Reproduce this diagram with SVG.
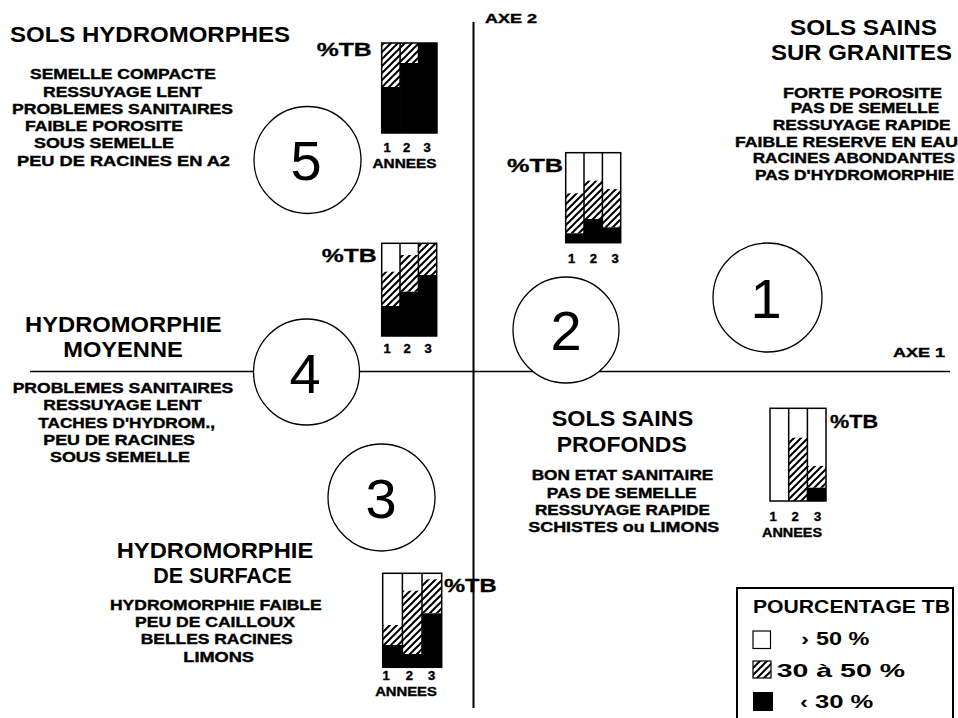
<svg xmlns="http://www.w3.org/2000/svg" width="958" height="718" viewBox="0 0 958 718">
  <style>
    text { font-family: "Liberation Sans", Arial, sans-serif; fill: #000; }
    .title { font-size: 22.5px; font-weight: bold; }
    .small { font-size: 15px; font-weight: bold; stroke: #000; stroke-width: 0.4px; }
    .tb { font-size: 19px; font-weight: bold; stroke: #000; stroke-width: 0.3px; }
    .dig { font-size: 13px; font-weight: bold; stroke: #000; stroke-width: 0.4px; text-anchor: middle; }
    .num { font-size: 56px; text-anchor: middle; }
    .leg { font-size: 19px; font-weight: bold; }
    .axis { font-size: 13px; font-weight: bold; stroke: #000; stroke-width: 0.4px; }
    .ring { fill: #fff; stroke: #000; stroke-width: 1.3; }
    .frame { fill: none; stroke: #000; stroke-width: 1.5; }
    .w { fill: #fff; }
    .h { fill: url(#hatch); }
    .b { fill: #000; }
    .line { stroke: #000; fill: none; }
  </style>
  <defs>
    <pattern id="hatch" patternUnits="userSpaceOnUse" width="7" height="7">
      <rect width="7" height="7" fill="#fff"/>
      <path d="M-1,8 L8,-1 M-1,1 L1,-1 M6,8 L8,6" stroke="#000" stroke-width="2"/>
    </pattern>
  </defs>
  <rect width="958" height="718" fill="#fff"/>

  <!-- axes -->
  <g id="connectors">
    <line class="line" x1="473.5" y1="22" x2="473.5" y2="708" stroke-width="2"/>
    <line class="line" x1="30" y1="371.5" x2="950" y2="371.5" stroke-width="1.5"/>
  </g>
  <text class="axis" x="485" y="22.7" textLength="52" lengthAdjust="spacingAndGlyphs">AXE 2</text>
  <text class="axis" x="893" y="357" textLength="52" lengthAdjust="spacingAndGlyphs">AXE 1</text>

  <!-- group 5 : hydromorphic soils -->
  <g id="node5">
    <circle class="ring" cx="307.5" cy="160" r="53.5"/>
    <text class="num" x="306" y="180">5</text>
    <text class="title" x="10" y="41.7" textLength="280" lengthAdjust="spacingAndGlyphs">SOLS HYDROMORPHES</text>
    <text class="small" x="30" y="79" textLength="186" lengthAdjust="spacingAndGlyphs">SEMELLE COMPACTE</text>
    <text class="small" x="43" y="96.7" textLength="159" lengthAdjust="spacingAndGlyphs">RESSUYAGE LENT</text>
    <text class="small" x="12" y="114" textLength="221" lengthAdjust="spacingAndGlyphs">PROBLEMES SANITAIRES</text>
    <text class="small" x="25" y="131" textLength="158" lengthAdjust="spacingAndGlyphs">FAIBLE POROSITE</text>
    <text class="small" x="34" y="148" textLength="140" lengthAdjust="spacingAndGlyphs">SOUS SEMELLE</text>
    <text class="small" x="17" y="165.5" textLength="213" lengthAdjust="spacingAndGlyphs">PEU DE RACINES EN A2</text>
    <g id="chart5">
      <rect class="h" x="381.7" y="43" width="18.4" height="44"/>
      <rect class="b" x="381.7" y="87" width="18.4" height="46"/>
      <rect class="h" x="400.1" y="43" width="18.4" height="20"/>
      <rect class="b" x="400.1" y="63" width="18.4" height="70"/>
      <rect class="b" x="418.5" y="43" width="18.5" height="90"/>
      <rect class="frame" x="381.7" y="43" width="55.3" height="90"/>
      <path class="line" stroke-width="1.5" d="M400.1,43V133M418.5,43V133"/>
      <text class="tb" x="316.7" y="56" textLength="55" lengthAdjust="spacingAndGlyphs">%TB</text>
      <text class="dig" x="387" y="152">1</text>
      <text class="dig" x="406.5" y="152">2</text>
      <text class="dig" x="427" y="152">3</text>
      <text class="dig" x="404.5" y="168" textLength="64" lengthAdjust="spacingAndGlyphs">ANNEES</text>
    </g>
  </g>

  <!-- group 1 : healthy soils on granite -->
  <g id="node1">
    <circle class="ring" cx="767.5" cy="297.5" r="54.5"/>
    <text class="num" x="766" y="318">1</text>
    <text class="title" x="790" y="35" textLength="147" lengthAdjust="spacingAndGlyphs">SOLS SAINS</text>
    <text class="title" x="771" y="60" textLength="181" lengthAdjust="spacingAndGlyphs">SUR GRANITES</text>
    <text class="small" x="783" y="97.7" textLength="159" lengthAdjust="spacingAndGlyphs">FORTE POROSITE</text>
    <text class="small" x="790.7" y="113.3" textLength="148.6" lengthAdjust="spacingAndGlyphs">PAS DE SEMELLE</text>
    <text class="small" x="772.7" y="130" textLength="178" lengthAdjust="spacingAndGlyphs">RESSUYAGE RAPIDE</text>
    <text class="small" x="735" y="146.7" textLength="223" lengthAdjust="spacingAndGlyphs">FAIBLE RESERVE EN EAU</text>
    <text class="small" x="752.7" y="163.3" textLength="202.3" lengthAdjust="spacingAndGlyphs">RACINES ABONDANTES</text>
    <text class="small" x="755" y="180" textLength="199" lengthAdjust="spacingAndGlyphs">PAS D'HYDROMORPHIE</text>
    <g id="chart1">
      <rect class="w" x="770" y="408.3" width="18.7" height="92.7"/>
      <rect class="w" x="788.7" y="408.3" width="18.7" height="29.4"/>
      <rect class="h" x="788.7" y="437.7" width="18.7" height="63.3"/>
      <rect class="w" x="807.4" y="408.3" width="18.6" height="57.7"/>
      <rect class="h" x="807.4" y="466" width="18.6" height="21.7"/>
      <rect class="b" x="807.4" y="487.7" width="18.6" height="13.3"/>
      <rect class="frame" x="770" y="408.3" width="56" height="92.7"/>
      <path class="line" stroke-width="1.5" d="M788.7,408.3V501M807.4,408.3V501"/>
      <text class="tb" x="830" y="428" textLength="48" lengthAdjust="spacingAndGlyphs">%TB</text>
      <text class="dig" x="773" y="521">1</text>
      <text class="dig" x="795" y="521">2</text>
      <text class="dig" x="817.7" y="521">3</text>
      <text class="dig" x="792" y="537" textLength="60" lengthAdjust="spacingAndGlyphs">ANNEES</text>
    </g>
  </g>

  <!-- group 2 : deep healthy soils -->
  <g id="node2">
    <circle class="ring" cx="566" cy="330" r="53"/>
    <text class="num" x="566" y="350">2</text>
    <text class="title" x="551.7" y="425.7" textLength="141.6" lengthAdjust="spacingAndGlyphs">SOLS SAINS</text>
    <text class="title" x="556.7" y="451.7" textLength="130" lengthAdjust="spacingAndGlyphs">PROFONDS</text>
    <text class="small" x="531.7" y="480" textLength="181.6" lengthAdjust="spacingAndGlyphs">BON ETAT SANITAIRE</text>
    <text class="small" x="546.7" y="497.7" textLength="150" lengthAdjust="spacingAndGlyphs">PAS DE SEMELLE</text>
    <text class="small" x="535" y="515" textLength="175" lengthAdjust="spacingAndGlyphs">RESSUYAGE RAPIDE</text>
    <text class="small" x="528.3" y="532.3" textLength="191" lengthAdjust="spacingAndGlyphs">SCHISTES ou LIMONS</text>
    <g id="chart2">
      <rect class="w" x="565.7" y="152.7" width="18.3" height="40.6"/>
      <rect class="h" x="565.7" y="193.3" width="18.3" height="40"/>
      <rect class="b" x="565.7" y="233.3" width="18.3" height="9.4"/>
      <rect class="w" x="584" y="152.7" width="18.4" height="28"/>
      <rect class="h" x="584" y="180.7" width="18.4" height="38.3"/>
      <rect class="b" x="584" y="219" width="18.4" height="23.7"/>
      <rect class="w" x="602.4" y="152.7" width="18.3" height="36.3"/>
      <rect class="h" x="602.4" y="189" width="18.3" height="38.3"/>
      <rect class="b" x="602.4" y="227.3" width="18.3" height="15.4"/>
      <rect class="frame" x="565.7" y="152.7" width="55" height="90"/>
      <path class="line" stroke-width="1.5" d="M584,152.7V242.7M602.4,152.7V242.7"/>
      <text class="tb" x="507" y="171.7" textLength="56" lengthAdjust="spacingAndGlyphs">%TB</text>
      <text class="dig" x="571.7" y="263">1</text>
      <text class="dig" x="593.3" y="263">2</text>
      <text class="dig" x="615" y="263">3</text>
    </g>
  </g>

  <!-- group 4 : medium hydromorphy -->
  <g id="node4">
    <circle class="ring" cx="306.5" cy="372" r="53"/>
    <text class="num" x="305" y="393">4</text>
    <text class="title" x="25" y="331.7" textLength="196.7" lengthAdjust="spacingAndGlyphs">HYDROMORPHIE</text>
    <text class="title" x="63.3" y="356.7" textLength="119.4" lengthAdjust="spacingAndGlyphs">MOYENNE</text>
    <text class="small" x="12.7" y="392.7" textLength="220.6" lengthAdjust="spacingAndGlyphs">PROBLEMES SANITAIRES</text>
    <text class="small" x="43.3" y="410" textLength="158.4" lengthAdjust="spacingAndGlyphs">RESSUYAGE LENT</text>
    <text class="small" x="38.3" y="427.7" textLength="176.7" lengthAdjust="spacingAndGlyphs">TACHES D'HYDROM.,</text>
    <text class="small" x="43.3" y="445" textLength="151.7" lengthAdjust="spacingAndGlyphs">PEU DE RACINES</text>
    <text class="small" x="50" y="462.3" textLength="140" lengthAdjust="spacingAndGlyphs">SOUS SEMELLE</text>
    <g id="chart4">
      <rect class="w" x="381.7" y="243.3" width="18.3" height="28.4"/>
      <rect class="h" x="381.7" y="271.7" width="18.3" height="34.3"/>
      <rect class="b" x="381.7" y="306" width="18.3" height="30"/>
      <rect class="w" x="400" y="243.3" width="18.4" height="11.7"/>
      <rect class="h" x="400" y="255" width="18.4" height="36.7"/>
      <rect class="b" x="400" y="291.7" width="18.4" height="44.3"/>
      <rect class="h" x="418.4" y="243.3" width="18.3" height="31.7"/>
      <rect class="b" x="418.4" y="275" width="18.3" height="61"/>
      <rect class="frame" x="381.7" y="243.3" width="55" height="92.7"/>
      <path class="line" stroke-width="1.5" d="M400,243.3V336M418.4,243.3V336"/>
      <text class="tb" x="321.7" y="261.7" textLength="55" lengthAdjust="spacingAndGlyphs">%TB</text>
      <text class="dig" x="387" y="353">1</text>
      <text class="dig" x="407" y="353">2</text>
      <text class="dig" x="428" y="353">3</text>
    </g>
  </g>

  <!-- group 3 : surface hydromorphy -->
  <g id="node3">
    <circle class="ring" cx="381.5" cy="497.5" r="53.5"/>
    <text class="num" x="381" y="518">3</text>
    <text class="title" x="116.7" y="558.3" textLength="196.6" lengthAdjust="spacingAndGlyphs">HYDROMORPHIE</text>
    <text class="title" x="153.3" y="583.3" textLength="138.4" lengthAdjust="spacingAndGlyphs">DE SURFACE</text>
    <text class="small" x="110" y="610" textLength="211.7" lengthAdjust="spacingAndGlyphs">HYDROMORPHIE FAIBLE</text>
    <text class="small" x="135" y="626.7" textLength="160" lengthAdjust="spacingAndGlyphs">PEU DE CAILLOUX</text>
    <text class="small" x="140.7" y="644" textLength="152" lengthAdjust="spacingAndGlyphs">BELLES RACINES</text>
    <text class="small" x="183.3" y="661.7" textLength="70.7" lengthAdjust="spacingAndGlyphs">LIMONS</text>
    <g id="chart3">
      <rect class="w" x="382.7" y="573.3" width="19.7" height="51.7"/>
      <rect class="h" x="382.7" y="625" width="19.7" height="20"/>
      <rect class="b" x="382.7" y="645" width="19.7" height="22.3"/>
      <rect class="w" x="402.4" y="573.3" width="19.6" height="17.4"/>
      <rect class="h" x="402.4" y="590.7" width="19.6" height="63.3"/>
      <rect class="b" x="402.4" y="654" width="19.6" height="13.3"/>
      <rect class="w" x="422" y="573.3" width="19.7" height="6"/>
      <rect class="h" x="422" y="579.3" width="19.7" height="34"/>
      <rect class="b" x="422" y="613.3" width="19.7" height="54"/>
      <rect class="frame" x="382.7" y="573.3" width="59" height="94"/>
      <path class="line" stroke-width="1.5" d="M402.4,573.3V667.3M422,573.3V667.3"/>
      <text class="tb" x="444" y="591.7" textLength="52.7" lengthAdjust="spacingAndGlyphs">%TB</text>
      <text class="dig" x="386" y="680">1</text>
      <text class="dig" x="409.3" y="680">2</text>
      <text class="dig" x="431.7" y="680">3</text>
      <text class="dig" x="406" y="696" textLength="61.7" lengthAdjust="spacingAndGlyphs">ANNEES</text>
    </g>
  </g>

  <!-- legend -->
  <g id="legend">
    <path class="line" stroke-width="2" d="M737,718V588H953V718"/>
    <text class="leg" x="753" y="613.3" textLength="197" lengthAdjust="spacingAndGlyphs">POURCENTAGE TB</text>
    <rect x="753" y="631" width="17.5" height="17.5" fill="#fff" stroke="#000" stroke-width="1.2"/>
    <text class="leg" x="801" y="645" font-size="13" textLength="8" lengthAdjust="spacingAndGlyphs">›</text>
    <text class="leg" x="816" y="645" textLength="53.3" lengthAdjust="spacingAndGlyphs">50 %</text>
    <rect x="753" y="661" width="18" height="17" fill="url(#hatch)" stroke="#000" stroke-width="1.2"/>
    <text class="leg" x="776.7" y="676.7" textLength="128.3" lengthAdjust="spacingAndGlyphs">30 à 50 %</text>
    <rect x="753" y="692" width="20" height="19" fill="#000"/>
    <text class="leg" x="800" y="708.3" font-size="13" textLength="8" lengthAdjust="spacingAndGlyphs">‹</text>
    <text class="leg" x="815" y="708.3" textLength="58.3" lengthAdjust="spacingAndGlyphs">30 %</text>
  </g>
</svg>
